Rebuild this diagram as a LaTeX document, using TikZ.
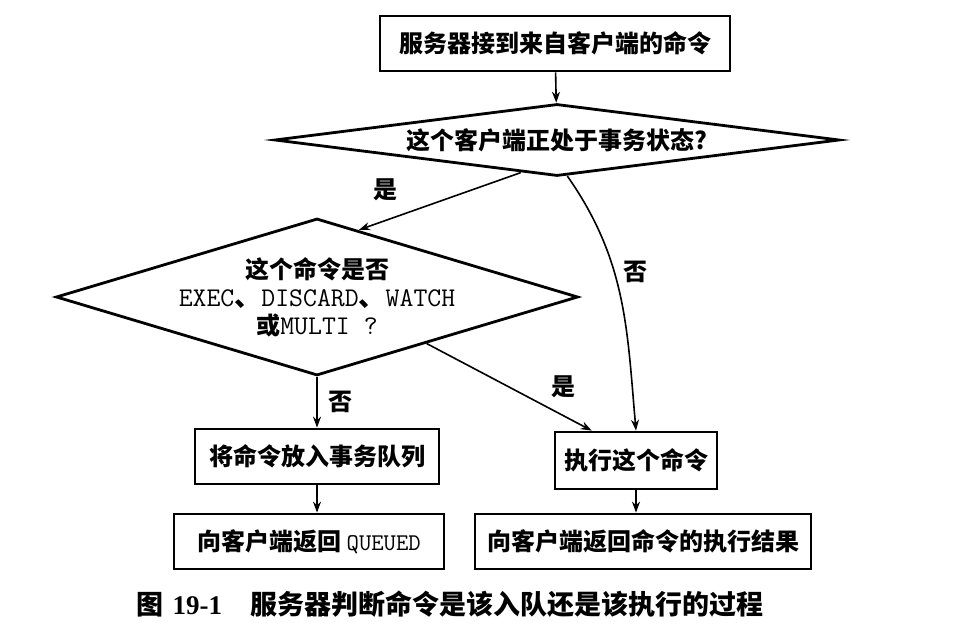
\documentclass[tikz,border=0pt]{standalone}
\usepackage{fontspec}
\setmainfont{Noto Sans CJK SC}
\newfontfamily\numfont{Liberation Serif}
\usetikzlibrary{shapes.geometric,arrows.meta}
\newcommand\boxfont{\fontsize{24}{28}\selectfont\bfseries}
\newcommand\capfont{\fontsize{27}{30}\selectfont\bfseries}
\newcommand\cmdfont{\ttfamily\mdseries\fontsize{27}{28}\selectfont}

\begin{document}
\begin{tikzpicture}[x=1pt,y=1pt,
  box/.style={rectangle,draw,line width=2.8pt,inner sep=0pt,font=\boxfont},
  cond/.style={diamond,draw,line width=2.8pt,inner sep=0pt,font=\boxfont},
  flow/.style={-{Stealth[length=11pt,width=8pt]},line width=1.6pt},
  lbl/.style={font=\boxfont}]
\useasboundingbox (0,0) rectangle (956,-636);

\node[box,minimum width=350pt,minimum height=55pt] at (555,-43.5) (recv) {服务器接到来自客户端的命令};
\node[cond,minimum width=565pt,minimum height=72pt,aspect=7.7] at (557,-140) (inmulti) {这个客户端正处于事务状态?};
\node[cond,minimum width=522pt,minimum height=157pt,aspect=3.3,inner sep=-10pt,align=center] at (317,-297) (iscmd) {这个命令是否\\{\cmdfont EXEC{\rmfamily\bfseries 、}DISCARD{\rmfamily\bfseries 、}WATCH}\\或{\cmdfont MULTI ?}};
\node[box,minimum width=244pt,minimum height=55pt] at (317,-456.5) (enqueue) {将命令放入事务队列};
\node[box,minimum width=162pt,minimum height=57pt] at (636,-460.5) (exec) {执行这个命令};
\node[box,minimum width=270pt,minimum height=55pt] at (309,-541.5) (retqueued) {向客户端返回 {\ttfamily\mdseries\fontsize{24}{24}\selectfont QUEUED}};
\node[box,minimum width=336pt,minimum height=55pt] at (643,-541.5) (retresult) {向客户端返回命令的执行结果};

\node[lbl] at (385,-190) (yes1) {是};
\node[lbl] at (635,-272) (no1) {否};
\node[lbl] at (563,-387) (yes2) {是};
\node[lbl] at (340,-402) (no2) {否};

\node[anchor=west,font=\capfont] at (133,-604) (caption) {图\hspace{9pt}{\numfont\fontsize{27}{28}\selectfont 19-1}\hspace{28pt}服务器判断命令是该入队还是该执行的过程};

\draw[flow] (recv) -- (inmulti);
\draw[flow] (inmulti.222) -- (iscmd.58);
\draw[flow] (inmulti.286) to[out=-55,in=95] (exec.north);
\draw[flow] (iscmd) -- (enqueue);
\draw[flow] (iscmd.337) -- (exec.146);
\draw[flow] (enqueue.south) -- (enqueue.south |- retqueued.north);
\draw[flow] (exec.south) -- (exec.south |- retresult.north);
\end{tikzpicture}
\end{document}
